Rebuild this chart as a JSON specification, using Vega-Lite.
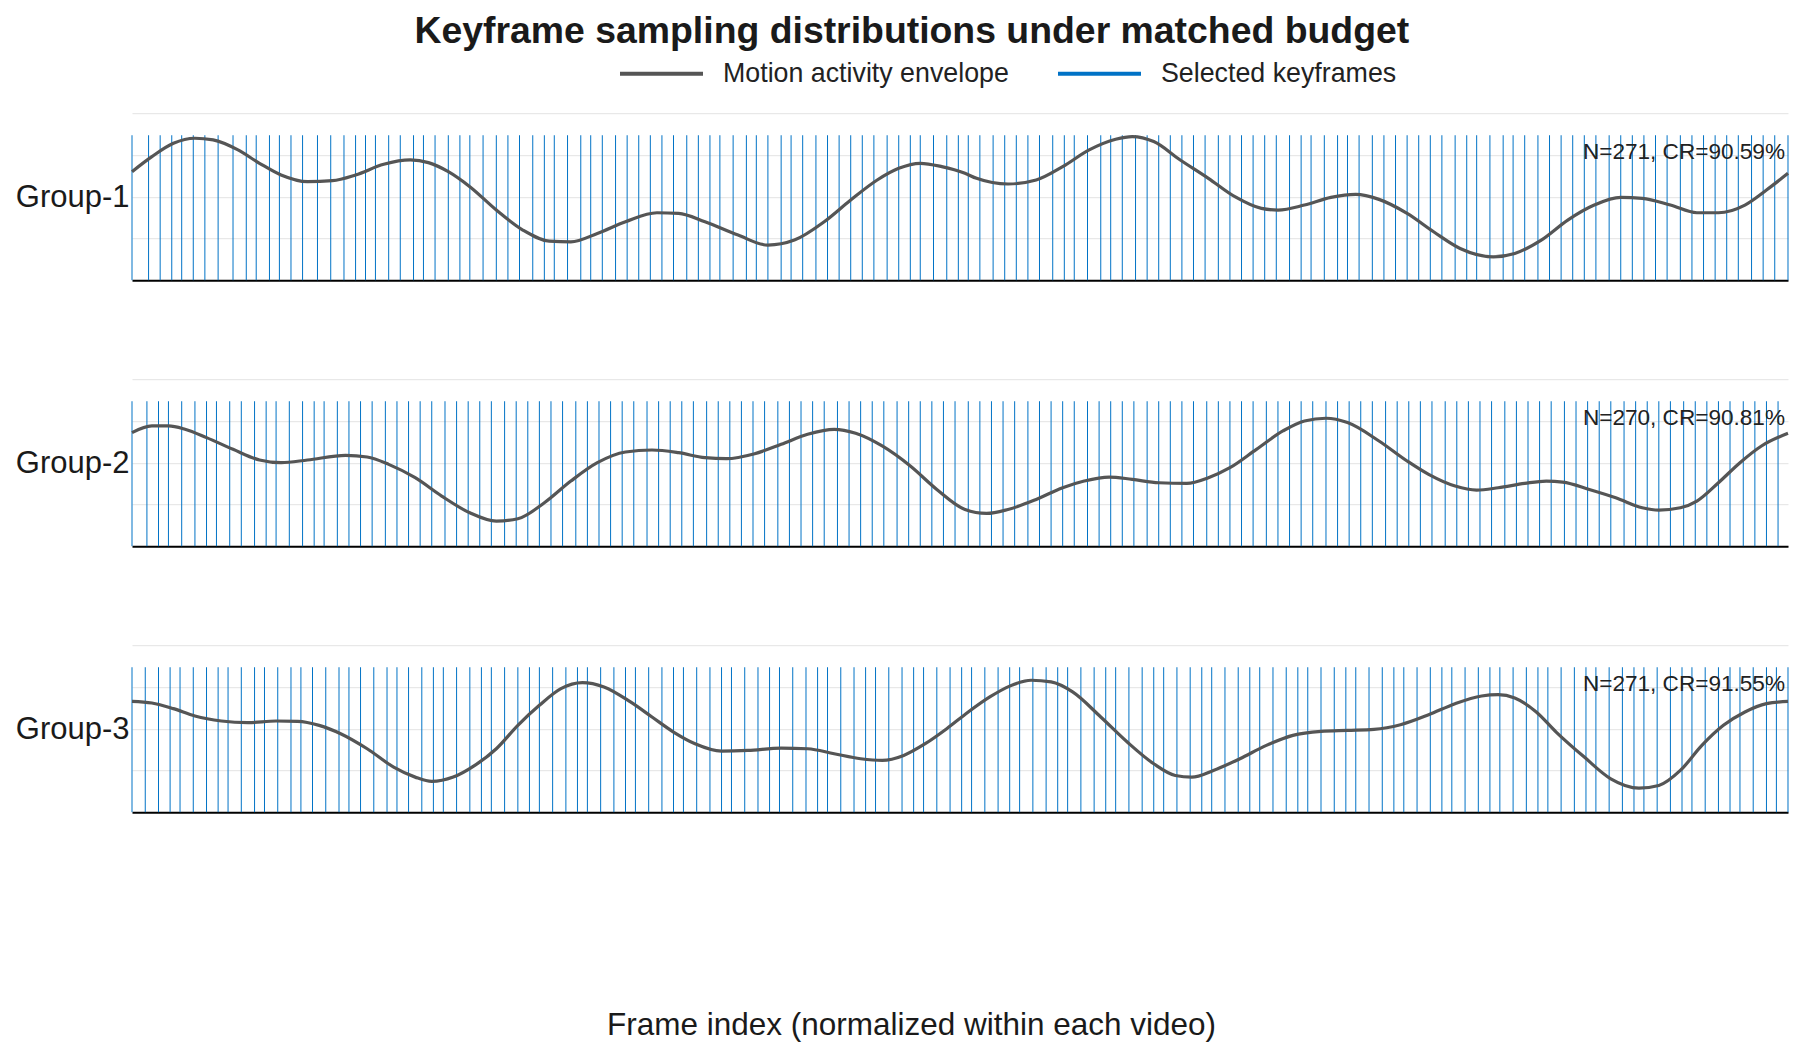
{
  "$schema": "https://vega.github.io/schema/vega-lite/v6.json",
  "padding": {"left": 15, "right": 17, "top": 12.2, "bottom": 10},
  "title": {
    "text": "Keyframe sampling distributions under matched budget",
    "fontSize": 37.4, "fontWeight": "bold", "color": "#1a1a1a",
    "anchor": "middle", "frame": "bounds", "offset": -20.5, "dx": 7
  },
  "datasets": {
    "env1": [
      {"x":0.000,"y":0.65},{"x":0.012,"y":0.74},{"x":0.025,"y":0.82},{"x":0.038,"y":0.85},{"x":0.049,"y":0.84},{"x":0.064,"y":0.78},{"x":0.077,"y":0.70},{"x":0.090,"y":0.63},{"x":0.106,"y":0.59},{"x":0.121,"y":0.596},{"x":0.135,"y":0.63},{"x":0.152,"y":0.694},{"x":0.168,"y":0.72},{"x":0.179,"y":0.704},{"x":0.191,"y":0.65},{"x":0.204,"y":0.56},{"x":0.220,"y":0.42},{"x":0.236,"y":0.30},{"x":0.252,"y":0.234},{"x":0.265,"y":0.23},{"x":0.281,"y":0.28},{"x":0.298,"y":0.35},{"x":0.317,"y":0.404},{"x":0.330,"y":0.40},{"x":0.346,"y":0.35},{"x":0.366,"y":0.27},{"x":0.384,"y":0.21},{"x":0.400,"y":0.24},{"x":0.418,"y":0.35},{"x":0.434,"y":0.48},{"x":0.450,"y":0.60},{"x":0.463,"y":0.67},{"x":0.476,"y":0.70},{"x":0.489,"y":0.68},{"x":0.503,"y":0.64},{"x":0.510,"y":0.61},{"x":0.529,"y":0.576},{"x":0.546,"y":0.60},{"x":0.562,"y":0.68},{"x":0.578,"y":0.78},{"x":0.594,"y":0.844},{"x":0.604,"y":0.86},{"x":0.617,"y":0.83},{"x":0.633,"y":0.72},{"x":0.650,"y":0.61},{"x":0.666,"y":0.50},{"x":0.682,"y":0.43},{"x":0.692,"y":0.42},{"x":0.708,"y":0.45},{"x":0.724,"y":0.496},{"x":0.739,"y":0.514},{"x":0.753,"y":0.484},{"x":0.770,"y":0.40},{"x":0.786,"y":0.29},{"x":0.802,"y":0.19},{"x":0.822,"y":0.14},{"x":0.835,"y":0.16},{"x":0.851,"y":0.24},{"x":0.867,"y":0.36},{"x":0.883,"y":0.45},{"x":0.899,"y":0.496},{"x":0.912,"y":0.49},{"x":0.929,"y":0.45},{"x":0.945,"y":0.404},{"x":0.958,"y":0.404},{"x":0.974,"y":0.45},{"x":0.987,"y":0.54},{"x":1.000,"y":0.64}
    ],
    "env2": [
      {"x":0.000,"y":0.68},{"x":0.012,"y":0.72},{"x":0.022,"y":0.72},{"x":0.032,"y":0.70},{"x":0.045,"y":0.65},{"x":0.061,"y":0.58},{"x":0.077,"y":0.516},{"x":0.090,"y":0.50},{"x":0.106,"y":0.516},{"x":0.129,"y":0.544},{"x":0.142,"y":0.534},{"x":0.155,"y":0.49},{"x":0.171,"y":0.41},{"x":0.187,"y":0.30},{"x":0.204,"y":0.20},{"x":0.220,"y":0.15},{"x":0.233,"y":0.164},{"x":0.249,"y":0.26},{"x":0.265,"y":0.39},{"x":0.281,"y":0.50},{"x":0.298,"y":0.564},{"x":0.314,"y":0.576},{"x":0.330,"y":0.56},{"x":0.346,"y":0.53},{"x":0.359,"y":0.524},{"x":0.376,"y":0.554},{"x":0.392,"y":0.61},{"x":0.408,"y":0.67},{"x":0.424,"y":0.70},{"x":0.437,"y":0.676},{"x":0.453,"y":0.60},{"x":0.470,"y":0.48},{"x":0.486,"y":0.34},{"x":0.503,"y":0.22},{"x":0.516,"y":0.196},{"x":0.529,"y":0.22},{"x":0.546,"y":0.28},{"x":0.562,"y":0.35},{"x":0.575,"y":0.39},{"x":0.590,"y":0.414},{"x":0.604,"y":0.40},{"x":0.620,"y":0.38},{"x":0.637,"y":0.376},{"x":0.650,"y":0.41},{"x":0.663,"y":0.47},{"x":0.679,"y":0.58},{"x":0.695,"y":0.69},{"x":0.708,"y":0.75},{"x":0.721,"y":0.766},{"x":0.734,"y":0.74},{"x":0.753,"y":0.63},{"x":0.770,"y":0.51},{"x":0.783,"y":0.43},{"x":0.799,"y":0.36},{"x":0.812,"y":0.336},{"x":0.825,"y":0.35},{"x":0.841,"y":0.376},{"x":0.854,"y":0.39},{"x":0.864,"y":0.384},{"x":0.880,"y":0.34},{"x":0.896,"y":0.29},{"x":0.912,"y":0.23},{"x":0.922,"y":0.216},{"x":0.935,"y":0.23},{"x":0.945,"y":0.27},{"x":0.958,"y":0.38},{"x":0.971,"y":0.50},{"x":0.984,"y":0.60},{"x":1.000,"y":0.676}
    ],
    "env3": [
      {"x":0.000,"y":0.664},{"x":0.012,"y":0.654},{"x":0.025,"y":0.62},{"x":0.038,"y":0.576},{"x":0.054,"y":0.546},{"x":0.070,"y":0.536},{"x":0.087,"y":0.546},{"x":0.100,"y":0.544},{"x":0.113,"y":0.52},{"x":0.126,"y":0.47},{"x":0.142,"y":0.38},{"x":0.158,"y":0.27},{"x":0.171,"y":0.21},{"x":0.181,"y":0.184},{"x":0.194,"y":0.21},{"x":0.207,"y":0.28},{"x":0.220,"y":0.38},{"x":0.233,"y":0.52},{"x":0.246,"y":0.64},{"x":0.259,"y":0.74},{"x":0.272,"y":0.776},{"x":0.285,"y":0.75},{"x":0.301,"y":0.66},{"x":0.314,"y":0.57},{"x":0.327,"y":0.48},{"x":0.340,"y":0.41},{"x":0.356,"y":0.366},{"x":0.372,"y":0.37},{"x":0.392,"y":0.384},{"x":0.408,"y":0.38},{"x":0.424,"y":0.35},{"x":0.440,"y":0.32},{"x":0.453,"y":0.31},{"x":0.466,"y":0.34},{"x":0.479,"y":0.41},{"x":0.492,"y":0.50},{"x":0.505,"y":0.60},{"x":0.518,"y":0.69},{"x":0.530,"y":0.755},{"x":0.543,"y":0.79},{"x":0.555,"y":0.78},{"x":0.568,"y":0.72},{"x":0.585,"y":0.57},{"x":0.601,"y":0.42},{"x":0.617,"y":0.29},{"x":0.630,"y":0.22},{"x":0.640,"y":0.21},{"x":0.653,"y":0.25},{"x":0.669,"y":0.32},{"x":0.685,"y":0.40},{"x":0.701,"y":0.46},{"x":0.718,"y":0.484},{"x":0.734,"y":0.49},{"x":0.750,"y":0.496},{"x":0.766,"y":0.524},{"x":0.783,"y":0.584},{"x":0.799,"y":0.65},{"x":0.815,"y":0.696},{"x":0.825,"y":0.704},{"x":0.835,"y":0.684},{"x":0.848,"y":0.60},{"x":0.860,"y":0.48},{"x":0.877,"y":0.33},{"x":0.893,"y":0.20},{"x":0.910,"y":0.144},{"x":0.922,"y":0.16},{"x":0.935,"y":0.25},{"x":0.948,"y":0.40},{"x":0.961,"y":0.52},{"x":0.974,"y":0.60},{"x":0.987,"y":0.65},{"x":1.000,"y":0.664}
    ],
    "kf1": [
      {"x":0.000},{"x":0.010},{"x":0.017},{"x":0.024},{"x":0.030},{"x":0.037},{"x":0.044},{"x":0.052},{"x":0.061},{"x":0.069},{"x":0.075},{"x":0.083},{"x":0.089},{"x":0.096},{"x":0.103},{"x":0.112},{"x":0.120},{"x":0.128},{"x":0.135},{"x":0.141},{"x":0.147},{"x":0.155},{"x":0.162},{"x":0.170},{"x":0.176},{"x":0.183},{"x":0.191},{"x":0.198},{"x":0.204},{"x":0.212},{"x":0.220},{"x":0.227},{"x":0.234},{"x":0.242},{"x":0.249},{"x":0.255},{"x":0.263},{"x":0.271},{"x":0.277},{"x":0.284},{"x":0.292},{"x":0.299},{"x":0.306},{"x":0.313},{"x":0.320},{"x":0.327},{"x":0.335},{"x":0.342},{"x":0.349},{"x":0.355},{"x":0.363},{"x":0.371},{"x":0.377},{"x":0.384},{"x":0.392},{"x":0.398},{"x":0.405},{"x":0.413},{"x":0.420},{"x":0.427},{"x":0.434},{"x":0.441},{"x":0.448},{"x":0.456},{"x":0.463},{"x":0.470},{"x":0.476},{"x":0.484},{"x":0.492},{"x":0.499},{"x":0.505},{"x":0.512},{"x":0.520},{"x":0.527},{"x":0.534},{"x":0.541},{"x":0.548},{"x":0.556},{"x":0.563},{"x":0.569},{"x":0.577},{"x":0.585},{"x":0.591},{"x":0.598},{"x":0.606},{"x":0.613},{"x":0.620},{"x":0.627},{"x":0.634},{"x":0.641},{"x":0.648},{"x":0.656},{"x":0.663},{"x":0.670},{"x":0.677},{"x":0.684},{"x":0.691},{"x":0.699},{"x":0.706},{"x":0.712},{"x":0.720},{"x":0.728},{"x":0.734},{"x":0.741},{"x":0.749},{"x":0.756},{"x":0.763},{"x":0.770},{"x":0.777},{"x":0.784},{"x":0.791},{"x":0.799},{"x":0.806},{"x":0.812},{"x":0.820},{"x":0.828},{"x":0.834},{"x":0.841},{"x":0.849},{"x":0.856},{"x":0.863},{"x":0.870},{"x":0.877},{"x":0.884},{"x":0.892},{"x":0.899},{"x":0.906},{"x":0.913},{"x":0.920},{"x":0.927},{"x":0.935},{"x":0.942},{"x":0.949},{"x":0.956},{"x":0.963},{"x":0.970},{"x":0.978},{"x":0.985},{"x":0.992},{"x":1.000}
    ],
    "kf2": [
      {"x":0.000},{"x":0.009},{"x":0.016},{"x":0.022},{"x":0.030},{"x":0.038},{"x":0.045},{"x":0.051},{"x":0.059},{"x":0.066},{"x":0.074},{"x":0.081},{"x":0.087},{"x":0.095},{"x":0.103},{"x":0.110},{"x":0.116},{"x":0.124},{"x":0.131},{"x":0.138},{"x":0.145},{"x":0.153},{"x":0.160},{"x":0.167},{"x":0.174},{"x":0.181},{"x":0.189},{"x":0.196},{"x":0.203},{"x":0.210},{"x":0.217},{"x":0.225},{"x":0.232},{"x":0.239},{"x":0.246},{"x":0.253},{"x":0.260},{"x":0.268},{"x":0.275},{"x":0.282},{"x":0.289},{"x":0.296},{"x":0.303},{"x":0.311},{"x":0.318},{"x":0.325},{"x":0.332},{"x":0.339},{"x":0.347},{"x":0.354},{"x":0.361},{"x":0.368},{"x":0.375},{"x":0.382},{"x":0.390},{"x":0.397},{"x":0.404},{"x":0.411},{"x":0.418},{"x":0.426},{"x":0.433},{"x":0.440},{"x":0.447},{"x":0.454},{"x":0.462},{"x":0.469},{"x":0.476},{"x":0.483},{"x":0.490},{"x":0.497},{"x":0.505},{"x":0.512},{"x":0.519},{"x":0.526},{"x":0.533},{"x":0.541},{"x":0.548},{"x":0.555},{"x":0.562},{"x":0.569},{"x":0.577},{"x":0.584},{"x":0.591},{"x":0.598},{"x":0.605},{"x":0.613},{"x":0.620},{"x":0.627},{"x":0.634},{"x":0.641},{"x":0.649},{"x":0.656},{"x":0.663},{"x":0.670},{"x":0.677},{"x":0.685},{"x":0.692},{"x":0.699},{"x":0.706},{"x":0.713},{"x":0.721},{"x":0.728},{"x":0.735},{"x":0.742},{"x":0.749},{"x":0.757},{"x":0.764},{"x":0.771},{"x":0.778},{"x":0.785},{"x":0.793},{"x":0.800},{"x":0.807},{"x":0.814},{"x":0.821},{"x":0.829},{"x":0.836},{"x":0.843},{"x":0.850},{"x":0.857},{"x":0.865},{"x":0.872},{"x":0.879},{"x":0.886},{"x":0.893},{"x":0.901},{"x":0.908},{"x":0.915},{"x":0.922},{"x":0.929},{"x":0.937},{"x":0.944},{"x":0.951},{"x":0.958},{"x":0.965},{"x":0.973},{"x":0.980},{"x":0.987},{"x":0.994}
    ],
    "kf3": [
      {"x":0.000},{"x":0.008},{"x":0.016},{"x":0.023},{"x":0.029},{"x":0.037},{"x":0.045},{"x":0.052},{"x":0.058},{"x":0.066},{"x":0.074},{"x":0.080},{"x":0.088},{"x":0.096},{"x":0.102},{"x":0.109},{"x":0.117},{"x":0.125},{"x":0.131},{"x":0.138},{"x":0.146},{"x":0.154},{"x":0.160},{"x":0.167},{"x":0.175},{"x":0.182},{"x":0.188},{"x":0.196},{"x":0.204},{"x":0.211},{"x":0.217},{"x":0.225},{"x":0.233},{"x":0.240},{"x":0.246},{"x":0.254},{"x":0.262},{"x":0.269},{"x":0.275},{"x":0.283},{"x":0.291},{"x":0.298},{"x":0.304},{"x":0.312},{"x":0.320},{"x":0.327},{"x":0.333},{"x":0.341},{"x":0.349},{"x":0.356},{"x":0.362},{"x":0.370},{"x":0.378},{"x":0.385},{"x":0.391},{"x":0.399},{"x":0.407},{"x":0.414},{"x":0.420},{"x":0.428},{"x":0.436},{"x":0.443},{"x":0.449},{"x":0.457},{"x":0.465},{"x":0.472},{"x":0.478},{"x":0.486},{"x":0.494},{"x":0.501},{"x":0.507},{"x":0.515},{"x":0.523},{"x":0.530},{"x":0.536},{"x":0.544},{"x":0.552},{"x":0.559},{"x":0.565},{"x":0.573},{"x":0.581},{"x":0.588},{"x":0.594},{"x":0.602},{"x":0.610},{"x":0.617},{"x":0.623},{"x":0.631},{"x":0.639},{"x":0.646},{"x":0.652},{"x":0.660},{"x":0.668},{"x":0.675},{"x":0.681},{"x":0.689},{"x":0.697},{"x":0.704},{"x":0.710},{"x":0.718},{"x":0.726},{"x":0.733},{"x":0.739},{"x":0.747},{"x":0.755},{"x":0.762},{"x":0.768},{"x":0.776},{"x":0.784},{"x":0.791},{"x":0.797},{"x":0.805},{"x":0.813},{"x":0.820},{"x":0.826},{"x":0.834},{"x":0.842},{"x":0.849},{"x":0.855},{"x":0.863},{"x":0.871},{"x":0.878},{"x":0.884},{"x":0.892},{"x":0.900},{"x":0.907},{"x":0.913},{"x":0.921},{"x":0.929},{"x":0.936},{"x":0.942},{"x":0.950},{"x":0.958},{"x":0.965},{"x":0.971},{"x":0.979},{"x":0.987},{"x":0.993},{"x":1.000}
    ],
    "notes": [
      {"g": "Group-1", "label": "N=271, CR=90.59%"},
      {"g": "Group-2", "label": "N=270, CR=90.81%"},
      {"g": "Group-3", "label": "N=271, CR=91.55%"}
    ]
  },
  "spacing": 98,
  "resolve": {"scale": {"color": "shared"}, "legend": {"color": "shared"}},
  "vconcat": [
    {
      "width": 1656, "height": 167,
      "layer": [
        {
          "data": {"name": "kf1"},
          "mark": {"type": "rule", "strokeWidth": 1},
          "encoding": {
            "x": {"field": "x", "type": "quantitative", "scale": {"domain": [0, 1], "nice": false},
                  "axis": {"title": null, "labels": false, "ticks": false, "grid": false, "domainColor": "#000000", "domainWidth": 2}},
            "y": {"datum": 0, "type": "quantitative", "scale": {"domain": [0, 1], "nice": false},
                  "axis": {"title": "Group-1", "titleAngle": 0, "titleAlign": "right", "titleBaseline": "middle", "titleX": -3, "titleY": 84.5,
                           "labels": false, "ticks": false, "domain": false, "grid": true, "values": [0, 0.25, 0.5, 0.75, 1]}},
            "y2": {"datum": 0.868},
            "color": {"datum": "Selected keyframes", "type": "nominal",
                      "scale": {"domain": ["Motion activity envelope", "Selected keyframes"], "range": ["#555555", "#0072C6"]},
                      "legend": {"orient": "none", "legendX": 486, "legendY": -83.3, "direction": "horizontal", "title": null,
                                 "symbolType": "stroke", "symbolSize": 6889, "symbolStrokeWidth": 4, "labelLimit": 500,
                                 "labelFontSize": 26.8, "labelColor": "#222222", "labelOffset": 18, "columnPadding": 41}}
          }
        },
        {
          "data": {"name": "env1"},
          "mark": {"type": "line", "strokeWidth": 3.2, "interpolate": "monotone"},
          "encoding": {
            "x": {"field": "x", "type": "quantitative"},
            "y": {"field": "y", "type": "quantitative"},
            "color": {"datum": "Motion activity envelope", "type": "nominal"}
          }
        },
        {
          "data": {"name": "notes"},
          "transform": [{"filter": "datum.g === 'Group-1'"}],
          "mark": {"type": "text", "align": "right", "baseline": "middle", "fontSize": 22.6, "color": "#222222", "dx": -3},
          "encoding": {
            "x": {"datum": 1, "type": "quantitative"},
            "y": {"datum": 0.766, "type": "quantitative"},
            "text": {"field": "label"}
          }
        }
      ]
    },
    {
      "width": 1656, "height": 167,
      "layer": [
        {
          "data": {"name": "kf2"},
          "mark": {"type": "rule", "strokeWidth": 1},
          "encoding": {
            "x": {"field": "x", "type": "quantitative", "scale": {"domain": [0, 1], "nice": false},
                  "axis": {"title": null, "labels": false, "ticks": false, "grid": false, "domainColor": "#000000", "domainWidth": 2}},
            "y": {"datum": 0, "type": "quantitative", "scale": {"domain": [0, 1], "nice": false},
                  "axis": {"title": "Group-2", "titleAngle": 0, "titleAlign": "right", "titleBaseline": "middle", "titleX": -3, "titleY": 84.5,
                           "labels": false, "ticks": false, "domain": false, "grid": true, "values": [0, 0.25, 0.5, 0.75, 1]}},
            "y2": {"datum": 0.868},
            "color": {"datum": "Selected keyframes", "type": "nominal"}
          }
        },
        {
          "data": {"name": "env2"},
          "mark": {"type": "line", "strokeWidth": 3.2, "interpolate": "monotone"},
          "encoding": {
            "x": {"field": "x", "type": "quantitative"},
            "y": {"field": "y", "type": "quantitative"},
            "color": {"datum": "Motion activity envelope", "type": "nominal"}
          }
        },
        {
          "data": {"name": "notes"},
          "transform": [{"filter": "datum.g === 'Group-2'"}],
          "mark": {"type": "text", "align": "right", "baseline": "middle", "fontSize": 22.6, "color": "#222222", "dx": -3},
          "encoding": {
            "x": {"datum": 1, "type": "quantitative"},
            "y": {"datum": 0.766, "type": "quantitative"},
            "text": {"field": "label"}
          }
        }
      ]
    },
    {
      "width": 1656, "height": 167,
      "layer": [
        {
          "data": {"name": "kf3"},
          "mark": {"type": "rule", "strokeWidth": 1},
          "encoding": {
            "x": {"field": "x", "type": "quantitative", "scale": {"domain": [0, 1], "nice": false},
                  "axis": {"title": "Frame index (normalized within each video)", "titlePadding": 197, "titleX": 779, "titleFontSize": 31.5,
                           "labels": false, "ticks": false, "grid": false, "domainColor": "#000000", "domainWidth": 2}},
            "y": {"datum": 0, "type": "quantitative", "scale": {"domain": [0, 1], "nice": false},
                  "axis": {"title": "Group-3", "titleAngle": 0, "titleAlign": "right", "titleBaseline": "middle", "titleX": -3, "titleY": 84.5,
                           "labels": false, "ticks": false, "domain": false, "grid": true, "values": [0, 0.25, 0.5, 0.75, 1]}},
            "y2": {"datum": 0.868},
            "color": {"datum": "Selected keyframes", "type": "nominal"}
          }
        },
        {
          "data": {"name": "env3"},
          "mark": {"type": "line", "strokeWidth": 3.2, "interpolate": "monotone"},
          "encoding": {
            "x": {"field": "x", "type": "quantitative"},
            "y": {"field": "y", "type": "quantitative"},
            "color": {"datum": "Motion activity envelope", "type": "nominal"}
          }
        },
        {
          "data": {"name": "notes"},
          "transform": [{"filter": "datum.g === 'Group-3'"}],
          "mark": {"type": "text", "align": "right", "baseline": "middle", "fontSize": 22.6, "color": "#222222", "dx": -3},
          "encoding": {
            "x": {"datum": 1, "type": "quantitative"},
            "y": {"datum": 0.766, "type": "quantitative"},
            "text": {"field": "label"}
          }
        }
      ]
    }
  ],
  "config": {
    "font": "Liberation Sans",
    "view": {"stroke": null},
    "axis": {"gridColor": "#e3e3e3", "gridWidth": 1, "titleFontSize": 31, "titleFontWeight": "normal", "titleColor": "#1a1a1a"},
    "legend": {"labelFont": "Liberation Sans"},
    "text": {"font": "Liberation Sans"}
  }
}
